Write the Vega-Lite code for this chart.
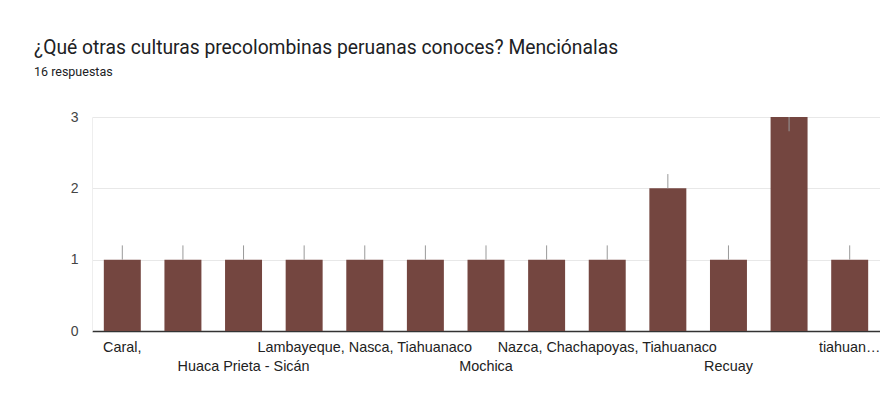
{
  "$schema": "https://vega.github.io/schema/vega-lite/v6.json",
  "autosize": {"type": "none"},
  "width": 788,
  "height": 214,
  "padding": {"left": 92, "top": 117, "right": 0, "bottom": 87},
  "background": "white",
  "title": {
    "text": "¿Qué otras culturas precolombinas peruanas conoces? Menciónalas",
    "subtitle": "16 respuestas",
    "anchor": "start",
    "frame": "group",
    "dx": -58,
    "offset": 32,
    "font": "Roboto",
    "fontSize": 19.3,
    "fontWeight": "normal",
    "color": "#202124",
    "subtitleFont": "Roboto",
    "subtitleFontSize": 12.5,
    "subtitleColor": "#202124",
    "subtitlePadding": 7
  },
  "data": {
    "values": [
      {"cultura": "Caral,", "n": 1, "lo": 1, "hi": 1.2},
      {"cultura": "Chavín", "n": 1, "lo": 1, "hi": 1.2},
      {"cultura": "Huaca Prieta - Sicán", "n": 1, "lo": 1, "hi": 1.2},
      {"cultura": "Inca", "n": 1, "lo": 1, "hi": 1.2},
      {"cultura": "Lambayeque, Nasca, Tiahuanaco", "n": 1, "lo": 1, "hi": 1.2},
      {"cultura": "Moche", "n": 1, "lo": 1, "hi": 1.2},
      {"cultura": "Mochica", "n": 1, "lo": 1, "hi": 1.2},
      {"cultura": "Nazca", "n": 1, "lo": 1, "hi": 1.2},
      {"cultura": "Nazca, Chachapoyas, Tiahuanaco", "n": 1, "lo": 1, "hi": 1.2},
      {"cultura": "Paracas", "n": 2, "lo": 2, "hi": 2.2},
      {"cultura": "Recuay", "n": 1, "lo": 1, "hi": 1.2},
      {"cultura": "Tiahuanaco", "n": 3, "lo": 2.8, "hi": 3},
      {"cultura": "tiahuanaco, chavín", "n": 1, "lo": 1, "hi": 1.2}
    ]
  },
  "encoding": {
    "x": {
      "field": "cultura",
      "type": "nominal",
      "sort": null,
      "scale": {"paddingInner": 0.39, "paddingOuter": 0.195},
      "axis": {
        "title": null,
        "ticks": false,
        "labelAngle": 0,
        "labelOverlap": false,
        "labelBound": false,
        "labelLimit": 0,
        "labelFont": "Liberation Sans",
        "labelFontSize": 14.4,
        "labelColor": "#222222",
        "labelPadding": 9,
        "labelLineHeight": 19,
        "labelBaseline": "top",
        "domainColor": "#333333",
        "domainWidth": 1.3,
        "labelExpr": "round(datum.index*12) % 2 == 1 ? '' : (round(datum.index*12) % 4 == 2 ? ['', datum.label] : (round(datum.index*12) == 12 ? slice(datum.label, 0, 7) + '…' : datum.label))"
      }
    }
  },
  "layer": [
    {
      "mark": {"type": "bar", "color": "#744640"},
      "encoding": {
        "y": {
          "field": "n",
          "type": "quantitative",
          "scale": {"domain": [0, 3], "nice": false},
          "axis": {
            "title": null,
            "values": [0, 0.5, 1, 1.5, 2, 2.5, 3],
            "labelExpr": "datum.value % 1 === 0 ? format(datum.value, 'd') : ''",
            "ticks": false,
            "labelFont": "Liberation Sans",
            "labelFontSize": 14,
            "labelColor": "#444444",
            "labelPadding": 14,
            "domainColor": "#eeeeee",
            "gridColor": {"condition": {"test": "datum.value % 1 === 0", "value": "#e8e8e8"}, "value": "#f4f4f4"}
          }
        }
      }
    },
    {
      "mark": {"type": "rule", "color": "#999999", "strokeWidth": 1},
      "encoding": {
        "y": {"field": "lo", "type": "quantitative"},
        "y2": {"field": "hi"}
      }
    }
  ],
  "config": {
    "view": {"stroke": null}
  }
}
